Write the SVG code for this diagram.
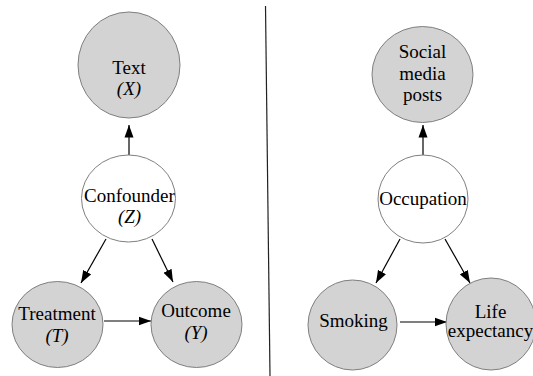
<svg xmlns="http://www.w3.org/2000/svg" width="533" height="376" viewBox="0 0 533 376">
<style>
.obs{fill:#d3d3d3;stroke:#7f7f7f;stroke-width:1}
.lat{fill:#ffffff;stroke:#7f7f7f;stroke-width:1}
.lbl{font-family:'Liberation Serif','Times New Roman',serif;font-size:19px;fill:#000;text-anchor:middle}
.it{font-style:italic}
.edge{stroke:#000;stroke-width:1.2;fill:none;marker-end:url(#ah)}
.divider{stroke:#222;stroke-width:1.2}
</style>
<defs>
<marker id="ah" markerUnits="userSpaceOnUse" markerWidth="13" markerHeight="10" refX="12.5" refY="5" orient="auto">
<path d="M0,0.5 L12.5,5 L0,9.5 z" fill="#000"/>
</marker>
</defs>
<rect width="533" height="376" fill="#fff"/>
<line class="divider" x1="265.5" y1="6" x2="270" y2="376"/>
<g id="connectors">
<line class="edge" x1="129" y1="155" x2="129" y2="125"/>
<line class="edge" x1="106" y1="239" x2="81" y2="283"/>
<line class="edge" x1="152" y1="239" x2="173" y2="282"/>
<line class="edge" x1="104" y1="321" x2="151" y2="321"/>
<line class="edge" x1="423" y1="155" x2="423" y2="125"/>
<line class="edge" x1="400" y1="239" x2="376" y2="283"/>
<line class="edge" x1="445" y1="239" x2="470" y2="283"/>
<line class="edge" x1="400" y1="322" x2="447" y2="322"/>
</g>
<g id="text-x">
<ellipse class="obs" cx="129" cy="65" rx="51" ry="53"/>
<text x="129" y="74" class="lbl">Text</text>
<text x="129" y="95" class="lbl it">(X)</text>
</g>
<g id="confounder">
<ellipse class="lat" cx="128.5" cy="198.5" rx="47" ry="43.5"/>
<text x="129.5" y="202" class="lbl">Confounder</text>
<text x="129.5" y="223" class="lbl it">(Z)</text>
</g>
<g id="treatment">
<ellipse class="obs" cx="57.5" cy="324.5" rx="45.5" ry="43"/>
<text x="57" y="320" class="lbl">Treatment</text>
<text x="57" y="342" class="lbl it">(T)</text>
</g>
<g id="outcome">
<ellipse class="obs" cx="196.5" cy="324.5" rx="45.5" ry="43"/>
<text x="196" y="317" class="lbl">Outcome</text>
<text x="196" y="339" class="lbl it">(Y)</text>
</g>
<g id="social-media-posts">
<ellipse class="obs" cx="422.5" cy="74.5" rx="50.5" ry="48"/>
<text x="422.5" y="58" class="lbl">Social</text>
<text x="422.5" y="80" class="lbl">media</text>
<text x="422.5" y="101" class="lbl">posts</text>
</g>
<g id="occupation">
<ellipse class="lat" cx="423" cy="199" rx="45" ry="44"/>
<text x="423" y="205" class="lbl">Occupation</text>
</g>
<g id="smoking">
<ellipse class="obs" cx="352.5" cy="325" rx="44.5" ry="45"/>
<text x="353.5" y="327" class="lbl">Smoking</text>
</g>
<g id="life-expectancy">
<ellipse class="obs" cx="491" cy="324" rx="45" ry="46"/>
<text x="490.5" y="318" class="lbl">Life</text>
<text x="490.5" y="337" class="lbl">expectancy</text>
</g>
</svg>
